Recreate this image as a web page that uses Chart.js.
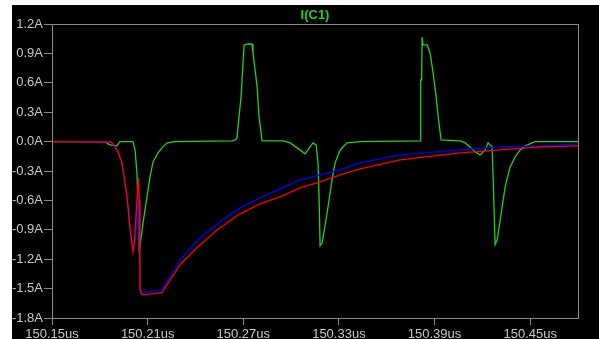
<!DOCTYPE html>
<html>
<head>
<meta charset="utf-8">
<script src="https://cdn.jsdelivr.net/npm/chart.js@4.4.0/dist/chart.umd.min.js"></script>
<style>
    body { margin: 0; background: #ffffff; width: 599px; height: 339px; overflow: hidden; }
    #plot { position: absolute; left: 12px; top: 5px; background: #000000; }
</style>
</head>
<body>
<canvas id="plot" width="587" height="334"></canvas>
<script>
// time in us, current in A
const xTicks = [150.15, 150.21, 150.27, 150.33, 150.39, 150.45];
const yTicks = [1.2, 0.9, 0.6, 0.3, 0.0, -0.3, -0.6, -0.9, -1.2, -1.5, -1.8];

const titleText = "I(C1)";

// I(C1), green
const greenPts = [
    [150.150, 0], [150.1833, 0], [150.1851, -0.023], [150.1864, -0.034], [150.1908, -0.044],
    [150.1920, -0.013], [150.1927, 0], [150.2008, 0], [150.2021, -0.085], [150.2033, -0.319],
    [150.2040, -0.696], [150.2046, -1.124], [150.2059, -0.982], [150.2071, -0.829], [150.2096, -0.564],
    [150.2115, -0.360], [150.2134, -0.207], [150.2165, -0.115], [150.2190, -0.064], [150.2222, -0.013],
    [150.2272, 0], [150.2630, 0.007], [150.2649, 0.017], [150.2661, 0.038], [150.2667, 0.150],
    [150.2686, 0.456], [150.2705, 0.986], [150.2730, 0.996], [150.2755, 0.996], [150.2761, 0.904],
    [150.2787, 0.558], [150.2799, 0.252], [150.2818, 0.007], [150.2950, 0.007], [150.2994, -0.013],
    [150.3038, -0.064], [150.3088, -0.125], [150.3119, -0.054], [150.3138, -0.013], [150.3157, -0.034],
    [150.3169, -0.217], [150.3176, -0.594], [150.3182, -1.063], [150.3195, -1.033], [150.3226, -0.727],
    [150.3257, -0.390], [150.3276, -0.217], [150.3308, -0.085], [150.3351, -0.013], [150.3433, 0],
    [150.3810, 0.007], [150.3813, 0.629], [150.3819, 0.629], [150.3822, 1.067], [150.3828, 0.986],
    [150.3854, 0.986], [150.3872, 0.904], [150.3891, 0.700], [150.3910, 0.456], [150.3923, 0.252],
    [150.3941, 0.017], [150.4061, 0.007], [150.4092, -0.013], [150.4123, -0.054], [150.4155, -0.105],
    [150.4186, -0.136], [150.4218, -0.085], [150.4236, -0.013], [150.4261, -0.054], [150.4268, -0.390],
    [150.4280, -1.053], [150.4293, -1.002], [150.4312, -0.798], [150.4324, -0.666], [150.4343, -0.462],
    [150.4374, -0.258], [150.4406, -0.156], [150.4437, -0.085], [150.4469, -0.044], [150.4531, 0],
    [150.4801, 0]
];

// blue trace
const bluePts = [
    [150.150, 0], [150.1864, 0], [150.1877, -0.013], [150.1895, -0.054], [150.1914, -0.105],
    [150.1939, -0.217], [150.1971, -0.554], [150.1990, -0.880], [150.2008, -1.104], [150.2027, -0.961],
    [150.2037, -0.564], [150.2043, -0.747], [150.2052, -1.491], [150.2065, -1.542], [150.2190, -1.512],
    [150.2209, -1.461], [150.2303, -1.206], [150.2429, -0.982], [150.2554, -0.819], [150.2680, -0.676],
    [150.2805, -0.574], [150.2931, -0.482], [150.3056, -0.390], [150.3182, -0.339], [150.3308, -0.288],
    [150.3433, -0.217], [150.3684, -0.136], [150.4061, -0.085], [150.4312, -0.054], [150.4563, -0.044],
    [150.4801, -0.023]
];

// red trace
const redPts = [
    [150.150, 0], [150.1820, -0.005], [150.1864, -0.005], [150.1877, -0.013], [150.1895, -0.054],
    [150.1914, -0.105], [150.1939, -0.217], [150.1971, -0.564], [150.1990, -0.900], [150.2008, -1.124],
    [150.2018, -1.002], [150.2033, -0.594], [150.2043, -0.370], [150.2048, -0.594], [150.2052, -1.512],
    [150.2065, -1.563], [150.2190, -1.542], [150.2209, -1.491], [150.2241, -1.410], [150.2303, -1.257],
    [150.2429, -1.053], [150.2554, -0.880], [150.2680, -0.737], [150.2805, -0.635], [150.2931, -0.564],
    [150.3056, -0.472], [150.3182, -0.411], [150.3308, -0.339], [150.3433, -0.278], [150.3684, -0.187],
    [150.4061, -0.115], [150.4312, -0.085], [150.4563, -0.054], [150.4801, -0.044]
];

const labelColor = "#c8c8c8";
const frameColor = "#8a8a8a";
const tickFont = { family: "Liberation Sans", size: 13 };

function toXY(pts) {
    return pts.map(p => ({ x: p[0], y: p[1] }));
}

// frame round the plot area and the title over it
const framePlugin = {
    id: "frame",
    afterDraw(chart) {
        const a = chart.chartArea;
        const ctx = chart.ctx;
        ctx.save();
        ctx.strokeStyle = frameColor;
        ctx.lineWidth = 1;
        ctx.strokeRect(Math.round(a.left) + 0.5, Math.round(a.top) + 0.5,
            Math.round(a.right - a.left), Math.round(a.bottom - a.top));
        ctx.fillStyle = "#22d022";
        ctx.font = "bold 13px 'Liberation Sans'";
        ctx.textAlign = "center";
        ctx.textBaseline = "middle";
        ctx.fillText(titleText, (a.left + a.right) / 2, 10);
        ctx.restore();
    }
};

new Chart(document.getElementById("plot"), {
    type: "line",
    data: {
        datasets: [{
            label: "red",
            data: toXY(redPts),
            borderColor: "#ff0000",
            borderWidth: 1.3
        }, {
            label: "blue",
            data: toXY(bluePts),
            borderColor: "#0000ff",
            borderWidth: 1.3
        }, {
            label: titleText,
            data: toXY(greenPts),
            borderColor: "#22d022",
            borderWidth: 1.3
        }]
    },
    options: {
        responsive: false,
        animation: false,
        events: [],
        elements: { point: { radius: 0 }, line: { tension: 0 } },
        layout: { padding: { top: 19, right: 21, left: 0, bottom: 0 } },
        plugins: { legend: { display: false }, tooltip: { enabled: false } },
        scales: {
            x: {
                type: "linear",
                min: 150.15,
                max: 150.48,
                afterBuildTicks: s => { s.ticks = xTicks.map(v => ({ value: v })); },
                afterFit: s => { s.height = 21; },
                grid: { drawOnChartArea: false, drawTicks: true, tickLength: 7, color: frameColor },
                border: { display: false },
                ticks: {
                    color: labelColor,
                    font: tickFont,
                    padding: 2,
                    maxRotation: 0,
                    autoSkip: false,
                    callback: v => v.toFixed(2) + "us"
                }
            },
            y: {
                min: -1.8,
                max: 1.2,
                afterBuildTicks: s => { s.ticks = yTicks.map(v => ({ value: v })); },
                afterFit: s => { s.width = 40; },
                grid: { drawOnChartArea: false, drawTicks: true, tickLength: 8, color: frameColor },
                border: { display: false },
                ticks: {
                    color: labelColor,
                    font: tickFont,
                    padding: 1,
                    autoSkip: false,
                    callback: v => (Math.abs(v) < 1e-9 ? 0 : v).toFixed(1) + "A"
                }
            }
        }
    },
    plugins: [framePlugin]
});
</script>
</body>
</html>
